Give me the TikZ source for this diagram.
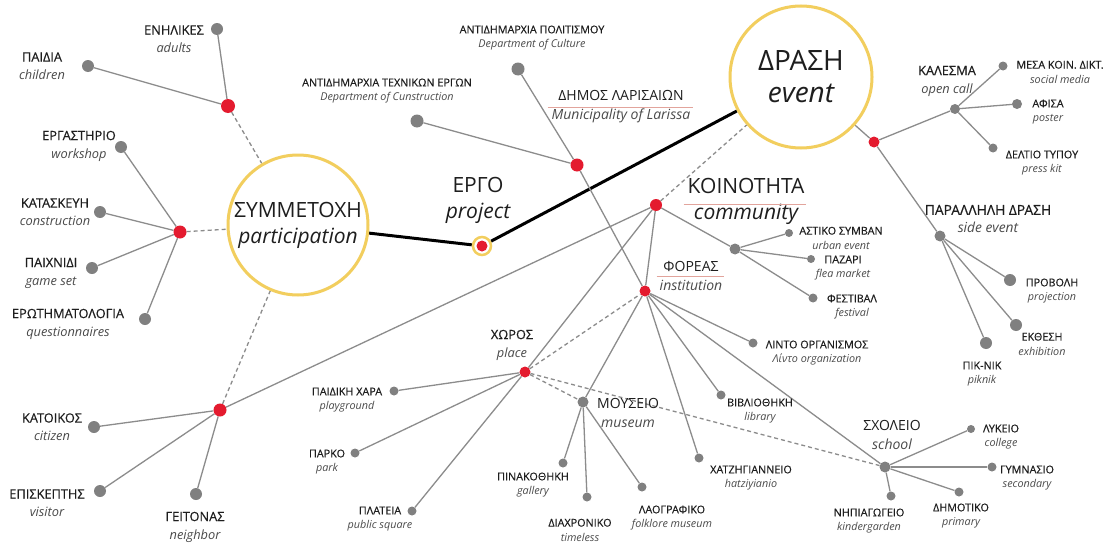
\documentclass[tikz,border=0pt]{standalone}
\usepackage{fontspec}
\setmainfont{Open Sans}
\newfontfamily\capsf[FakeBold=0.4]{Open Sans}
\pgfdeclarelayer{bg}
\pgfdeclarelayer{edges}
\pgfsetlayers{bg,edges,main}
\definecolor{dotred}{HTML}{E41B2F}
\definecolor{dotgray}{HTML}{808080}
\definecolor{linegray}{HTML}{8C8C8C}
\definecolor{ringyellow}{HTML}{F2CE5E}
\definecolor{ulred}{HTML}{E2A49C}
\definecolor{captxt}{HTML}{1E1E1E}
\definecolor{ittxt}{HTML}{4A4A4A}
\newcommand{\entxt}[1]{{\normalfont\itshape\color{ittxt}#1}}
\tikzset{
 gdot/.style={circle,fill=dotgray,inner sep=0,minimum size=#1},
 gdot/.default=12,
 rdot/.style={circle,fill=dotred,inner sep=0,minimum size=#1},
 rdot/.default=12,
 bigring/.style={circle,draw=ringyellow,line width=3,fill=white,inner sep=0,align=center,text=captxt},
 lnk/.style={draw=linegray,line width=1.3},
 dlnk/.style={draw=linegray,line width=1.3,dash pattern=on 4 off 3},
 blk/.style={draw=black,line width=3},
 ul/.style={draw=ulred,line width=0.8},
 lblA/.style={align=center,inner sep=0,text=captxt,font=\capsf\fontsize{12.8}{18}\selectfont},
 lblS/.style={align=center,inner sep=0,text=captxt,font=\capsf\fontsize{10.8}{14.5}\selectfont},
 lblM/.style={align=center,inner sep=0,text=captxt,font=\fontsize{14}{19}\selectfont},
 lblL/.style={align=center,inner sep=0,text=captxt,font=\fontsize{21}{26}\selectfont},
}
\begin{document}
\begin{tikzpicture}[x=1pt,y=-1pt]
\begin{pgfonlayer}{bg}
\fill[white] (0,0) rectangle (1106,546);
\end{pgfonlayer}
\useasboundingbox (0,0) rectangle (1106,546);
% big circles
\node[bigring,minimum size=140,font=\fontsize{21}{26}\selectfont] (symm) at (298,225) {ΣΥΜΜΕΤΟΧΗ\\\itshape participation};
\node[bigring,minimum size=142,font=\fontsize{28}{32}\selectfont] (drasi) at (801,77) {ΔΡΑΣΗ\\\itshape event};
\node[circle,draw=ringyellow,line width=2.5,fill=white,minimum size=18,inner sep=0,
  path picture={\fill[dotred] (path picture bounding box.center) circle (5.5);}] (ergo) at (482,246) {};
% hubs
\node[rdot=14] (hEnh) at (228,106) {};
\node[rdot=13] (hLeft) at (180,232) {};
\node[rdot=13] (hCit) at (220,410) {};
\node[rdot=13] (hDim) at (577,165) {};
\node[rdot=12] (hKoin) at (656,205) {};
\node[rdot=11] (hFor) at (645,291) {};
\node[rdot=11] (hXor) at (525,372) {};
\node[rdot=11] (hDra) at (874,142) {};
\node[gdot=10] (hKal) at (955,109) {};
\node[gdot=11] (hPar) at (940,236) {};
\node[gdot=11] (hCom) at (735,249) {};
\node[gdot=11] (hSxo) at (885,467) {};
\node[gdot=11] (hMou) at (583,402) {};
% leaves
\node[gdot] (nEnh) at (217,29) {};
\node[gdot] (nPaid) at (88,66) {};
\node[gdot] (nErg) at (121,147) {};
\node[gdot] (nKat) at (100,212) {};
\node[gdot] (nPaix) at (92,268) {};
\node[gdot] (nErot) at (145,319) {};
\node[gdot] (nKatoik) at (94,427) {};
\node[gdot] (nEpisk) at (100,491) {};
\node[gdot] (nGeit) at (196,494) {};
\node[gdot=13] (nPolit) at (518,69) {};
\node[gdot=13] (nTech) at (417,121) {};
\node[gdot=9] (nMesa) at (1003,66) {};
\node[gdot=10] (nAfisa) at (1017,104) {};
\node[gdot=9] (nDelt) at (993,148) {};
\node[gdot] (nProv) at (1010,280) {};
\node[gdot] (nEkth) at (1016,325) {};
\node[gdot] (nPik) at (986,343) {};
\node[gdot=8] (nAst) at (789,233) {};
\node[gdot=8] (nPaz) at (811,259) {};
\node[gdot=9] (nFest) at (813,298) {};
\node[gdot=9] (nLinto) at (753,343) {};
\node[gdot=9] (nBibl) at (721,395) {};
\node[gdot=8] (nLyk) at (971,429) {};
\node[gdot=9] (nGym) at (992,467) {};
\node[gdot=9] (nDim) at (959,492) {};
\node[gdot=9] (nNip) at (891,496) {};
\node[gdot=9] (nXatz) at (699,458) {};
\node[gdot=9] (nPin) at (563,463) {};
\node[gdot=9] (nDiax) at (587,497) {};
\node[gdot=9] (nLaog) at (642,487) {};
\node[gdot=9] (nPaidX) at (394,391) {};
\node[gdot=9] (nPark) at (355,453) {};
\node[gdot=9] (nPlat) at (412,511) {};
% labels
\node[lblA] (tEnh) at (174,39) {ΕΝΗΛΙΚΕΣ\\\entxt{adults}};
\node[lblA] (tPaid) at (42,66) {ΠΑΙΔΙΑ\\\entxt{children}};
\node[lblA] (tErg) at (79,146) {ΕΡΓΑΣΤΗΡΙΟ\\\entxt{workshop}};
\node[lblA] (tKat) at (55,212) {ΚΑΤΑΣΚΕΥΗ\\\entxt{construction}};
\node[lblA] (tPaix) at (51,273) {ΠΑΙΧΝΙΔΙ\\\entxt{game set}};
\node[lblA] (tErot) at (68,324) {ΕΡΩΤΗΜΑΤΟΛΟΓΙΑ\\\entxt{questionnaires}};
\node[lblA] (tKatoik) at (52,427) {ΚΑΤΟΙΚΟΣ\\\entxt{citizen}};
\node[lblA] (tEpisk) at (47,503) {ΕΠΙΣΚΕΠΤΗΣ\\\entxt{visitor}};
\node[lblA] (tGeit) at (195,527) {ΓΕΙΤΟΝΑΣ\\\entxt{neighbor}};
\node[lblS] (tPolit) at (532,38) {ΑΝΤΙΔΗΜΑΡΧΙΑ ΠΟΛΙΤΙΣΜΟΥ\\\entxt{Department of Culture}};
\node[lblS] (tTech) at (387,91) {ΑΝΤΙΔΗΜΑΡΧΙΑ ΤΕΧΝΙΚΩΝ ΕΡΓΩΝ\\\entxt{Department of Cunstruction}};
\node[lblM] (tDimos) at (621,107) {ΔΗΜΟΣ ΛΑΡΙΣΑΙΩΝ\\\entxt{Municipality of Larissa}};
\node[lblL] (tErgo) at (478,200) {ΕΡΓΟ\\\itshape project};
\node[lblL] (tKoin) at (746,201) {ΚΟΙΝΟΤΗΤΑ\\\itshape community};
\node[lblM] (tForeas) at (691,276) {ΦΟΡΕΑΣ\\\entxt{institution}};
\node[lblA] (tXor) at (512,345) {ΧΩΡΟΣ\\\entxt{place}};
\node[lblM] (tMous) at (628,413) {ΜΟΥΣΕΙΟ\\\entxt{museum}};
\node[lblA] (tKal) at (947,81) {ΚΑΛΕΣΜΑ\\\entxt{open call}};
\node[lblS] (tMesa) at (1060,72) {ΜΕΣΑ ΚΟΙΝ. ΔΙΚΤ.\\\entxt{social media}};
\node[lblS] (tAfisa) at (1048,112) {ΑΦΙΣΑ\\\entxt{poster}};
\node[lblS] (tDelt) at (1042,163) {ΔΕΛΤΙΟ ΤΥΠΟΥ\\\entxt{press kit}};
\node[lblA,font=\capsf\fontsize{13.8}{18}\selectfont] (tPar) at (988,219) {ΠΑΡΑΛΛΗΛΗ ΔΡΑΣΗ\\\entxt{side event}};
\node[lblS] (tAst) at (841,238) {ΑΣΤΙΚΟ ΣΥΜΒΑΝ\\\entxt{urban event}};
\node[lblS] (tPaz) at (843,268) {ΠΑΖΑΡΙ\\\entxt{flea market}};
\node[lblS] (tFest) at (852,307) {ΦΕΣΤΙΒΑΛ\\\entxt{festival}};
\node[lblS] (tLinto) at (817,353) {ΛΙΝΤΟ ΟΡΓΑΝΙΣΜΟΣ\\\entxt{Λίντο organization}};
\node[lblS] (tProv) at (1052,291) {ΠΡΟΒΟΛΗ\\\entxt{projection}};
\node[lblS] (tEkth) at (1042,344) {ΕΚΘΕΣΗ\\\entxt{exhibition}};
\node[lblS] (tPik) at (982,374) {ΠΙΚ-ΝΙΚ\\\entxt{piknik}};
\node[lblS] (tBibl) at (760,411) {ΒΙΒΛΙΟΘΗΚΗ\\\entxt{library}};
\node[lblM] (tSxol) at (892,435) {ΣΧΟΛΕΙΟ\\\entxt{school}};
\node[lblS] (tLyk) at (1001,437) {ΛΥΚΕΙΟ\\\entxt{college}};
\node[lblS] (tGym) at (1027,478) {ΓΥΜΝΑΣΙΟ\\\entxt{secondary}};
\node[lblS] (tDim) at (961,516) {ΔΗΜΟΤΙΚΟ\\\entxt{primary}};
\node[lblS] (tNip) at (869,521) {ΝΗΠΙΑΓΩΓΕΙΟ\\\entxt{kindergarden}};
\node[lblS] (tXatz) at (751,478) {ΧΑΤΖΗΓΙΑΝΝΕΙΟ\\\entxt{hatziyianio}};
\node[lblS] (tPin) at (533,485) {ΠΙΝΑΚΟΘΗΚΗ\\\entxt{gallery}};
\node[lblS] (tDiax) at (580,530) {ΔΙΑΧΡΟΝΙΚΟ\\\entxt{timeless}};
\node[lblS] (tLaog) at (672,518) {ΛΑΟΓΡΑΦΙΚΟ\\\entxt{folklore museum}};
\node[lblS] (tPaidX) at (347,400) {ΠΑΙΔΙΚΗ ΧΑΡΑ\\\entxt{playground}};
\node[lblS] (tPark) at (327,462) {ΠΑΡΚΟ\\\entxt{park}};
\node[lblS] (tPlat) at (380,519) {ΠΛΑΤΕΙΑ\\\entxt{public square}};
% underlines
\draw[ul] ([xshift=-4]tDimos.west) -- ([xshift=2]tDimos.east);
\draw[ul] ([xshift=-4,yshift=-3]tKoin.west) -- ([xshift=2,yshift=-3]tKoin.east);
\draw[ul] ([xshift=-3]tForeas.west) -- ([xshift=2]tForeas.east);
% connectors
\begin{pgfonlayer}{edges}
\draw[blk] (symm) -- (ergo);
\draw[blk] (ergo) -- (drasi);
\draw[dlnk] (hEnh) -- (symm);
\draw[dlnk] (hLeft) -- (symm);
\draw[dlnk] (hCit) -- (symm);
\draw[dlnk] (hKoin) -- (drasi);
\draw[dlnk] (hXor) -- (hFor);
\draw[dlnk] (hXor) -- (hMou);
\draw[dlnk] (hXor) -- (hSxo);
\foreach \a/\b in {hEnh/nEnh,hEnh/nPaid,hLeft/nErg,hLeft/nKat,hLeft/nPaix,hLeft/nErot,
  hCit/nKatoik,hCit/nEpisk,hCit/nGeit,hCit/hKoin,hDim/nPolit,hDim/nTech,hDim/hFor,
  hKoin/hFor,hKoin/hCom,hKoin/hXor,hCom/nAst,hCom/nPaz,hCom/nFest,
  hFor/hMou,hFor/nXatz,hFor/nBibl,hFor/hSxo,hFor/nLinto,
  hXor/nPaidX,hXor/nPark,hXor/nPlat,hMou/nPin,hMou/nDiax,hMou/nLaog,
  hSxo/nLyk,hSxo/nGym,hSxo/nDim,hSxo/nNip,drasi/hDra,hDra/hKal,hDra/hPar,
  hKal/nMesa,hKal/nAfisa,hKal/nDelt,hPar/nProv,hPar/nEkth,hPar/nPik}
  \draw[lnk] (\a) -- (\b);
\end{pgfonlayer}
\end{tikzpicture}
\end{document}
